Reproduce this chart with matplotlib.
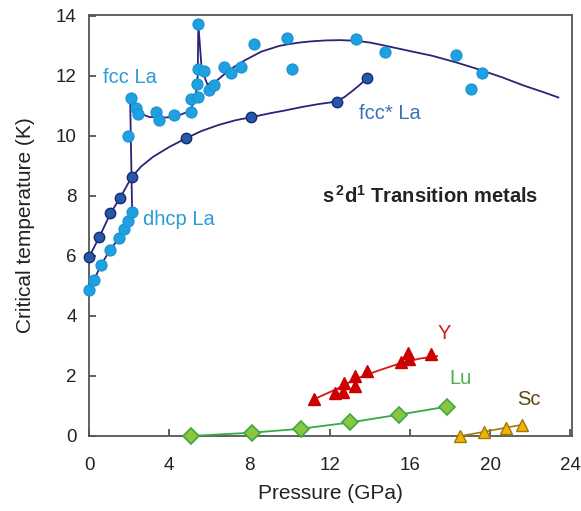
import matplotlib.pyplot as plt

plt.rcParams['font.family'] = ['Liberation Sans', 'DejaVu Sans']
plt.rcParams['mathtext.fontset'] = 'custom'
plt.rcParams['mathtext.rm'] = 'Liberation Sans'
plt.rcParams['mathtext.bf'] = 'Liberation Sans:bold'

# measured Tc (K) vs pressure (GPa)
dhcp_p = [0.0, 0.25, 0.6, 1.05, 1.5, 1.75, 1.95, 2.15]
dhcp_tc = [4.85, 5.2, 5.7, 6.2, 6.6, 6.9, 7.15, 7.45]

fcc_p = [2.07, 2.33, 2.46, 1.95, 3.35, 3.47, 4.26, 5.09, 5.06, 5.45, 5.37, 5.42,
         5.45, 5.72, 6.0, 6.25, 6.74, 7.07, 7.57, 8.23, 9.88, 10.1, 13.3, 14.76,
         18.28, 19.6, 19.05]
fcc_tc = [11.26, 10.94, 10.72, 9.98, 10.81, 10.53, 10.70, 10.81, 11.22, 11.31,
          11.73, 13.72, 12.22, 12.17, 11.53, 11.7, 12.31, 12.09, 12.29, 13.06,
          13.26, 12.22, 13.23, 12.79, 12.68, 12.11, 11.57]

star_p = [0.0, 0.51, 1.07, 1.54, 2.12, 4.84, 8.06, 12.36, 13.85]
star_tc = [5.96, 6.62, 7.42, 7.92, 8.62, 9.92, 10.62, 11.14, 11.92]

y_p = [11.2, 12.28, 12.64, 12.69, 13.24, 13.24, 13.85, 15.55, 15.88, 15.95, 17.07]
y_tc = [1.22, 1.42, 1.48, 1.76, 1.67, 2.0, 2.17, 2.48, 2.76, 2.56, 2.73]

lu_p = [5.08, 8.12, 10.55, 13.0, 15.44, 17.86]
lu_tc = [0.0, 0.11, 0.24, 0.45, 0.71, 0.98]

sc_p = [18.52, 19.71, 20.79, 21.57]
sc_tc = [0.0, 0.14, 0.28, 0.37]

# guide lines drawn through the data
la_line_p = dhcp_p + [2.12, 2.05, 2.2, 2.5, 3.0, 3.6, 4.3, 5.0, 5.3, 5.42, 5.45,
                      5.62, 5.9, 6.3, 7.0, 7.8, 8.6, 9.5, 10.0, 10.5, 11.1, 11.8,
                      12.5, 13.3, 14.0, 14.8, 15.9, 17.1, 18.3, 19.5, 20.6, 21.7,
                      22.6, 23.4]
la_line_tc = dhcp_tc + [8.62, 11.25, 11.0, 10.76, 10.63, 10.6, 10.64, 10.82, 11.2,
                        12.0, 13.72, 12.2, 11.72, 11.8, 12.2, 12.53, 12.81, 13.0,
                        13.06, 13.11, 13.15, 13.18, 13.19, 13.17, 13.11, 13.0,
                        12.84, 12.67, 12.45, 12.2, 11.95, 11.67, 11.47, 11.28]

star_line_p = [0.0, 0.51, 1.07, 1.54, 2.12, 2.6, 3.19, 4.0, 4.84, 5.6, 6.49, 7.3,
               8.07, 9.0, 9.8, 10.6, 11.45, 12.0, 12.36, 12.75, 13.1, 13.5, 13.85]
star_line_tc = [5.96, 6.62, 7.42, 7.92, 8.62, 8.98, 9.3, 9.63, 9.92, 10.16, 10.37,
                10.52, 10.62, 10.75, 10.85, 10.96, 11.06, 11.11, 11.16, 11.3,
                11.48, 11.7, 11.92]

y_line_p = [11.2, 12.3, 13.3, 14.3, 15.5, 16.5, 17.35]
y_line_tc = [1.22, 1.55, 1.9, 2.15, 2.42, 2.58, 2.66]

navy = '#2b2378'
light = '#1fa0e0'

fig = plt.figure(figsize=(5.81, 5.11), dpi=100)
ax = fig.add_axes([0.1532, 0.1468, 0.832, 0.824])

ax.plot(la_line_p, la_line_tc, color=navy, lw=1.3, zorder=2)
ax.plot(star_line_p, star_line_tc, color=navy, lw=1.3, zorder=2)
ax.plot(dhcp_p, dhcp_tc, 'o', ms=8, mfc=light, mec='#1b92d2', mew=0.8,
        clip_on=False, zorder=3)
ax.plot(fcc_p, fcc_tc, 'o', ms=8, mfc=light, mec='#1b92d2', mew=0.8,
        clip_on=False, zorder=3)
ax.plot(star_p, star_tc, 'o', ms=7.5, mfc='#2458a8', mec='#1c2a6e', mew=1.0,
        clip_on=False, zorder=4)

ax.plot(y_line_p, y_line_tc, color='#d01818', lw=1.3, zorder=2)
ax.plot(y_p, y_tc, '^', ms=8, mfc='#cc0000', mec='#cc0000', zorder=3)

ax.plot(lu_p, lu_tc, '-D', color='#3aa845', lw=1.3, ms=8, mfc='#8cc63e',
        mec='#3aa845', mew=1.2, clip_on=False, zorder=3)
ax.plot(sc_p, sc_tc, '-^', color='#a07810', lw=1.2, ms=8, mfc='#f0b400',
        mec='#a07810', mew=1.0, clip_on=False, zorder=3)

fs = 14.5
ax.text(0.69, 11.93, 'fcc La', color='#2a9bd8', fontsize=fs, va='center')
ax.text(13.44, 10.73, 'fcc* La', color='#3a72b8', fontsize=fs, va='center')
ax.text(2.68, 7.2, 'dhcp La', color='#2a9bd8', fontsize=fs, va='center')
ax.text(17.7, 3.43, 'Y', color='#cc1f1f', fontsize=fs, ha='center', va='center')
ax.text(18.5, 1.93, 'Lu', color='#4caf50', fontsize=fs, ha='center', va='center')
ax.text(21.94, 1.2, 'Sc', color='#5a4812', fontsize=fs, ha='center', va='center')
ax.text(11.6, 8.0, r'$\mathbf{s}^{\,\mathbf{2}}\mathbf{d}^{\mathbf{1}}$ Transition metals',
        color='#222222', fontsize=14.5, fontweight='bold', va='center')

ax.set_xlim(0, 24.1)
ax.set_ylim(0, 14.03)
ax.set_xticks(range(0, 25, 4))
ax.set_yticks(range(0, 15, 2))
ax.tick_params(direction='in', length=5, width=1.2, colors='#444444',
               labelcolor='#222222', labelsize=13.5)
ax.tick_params(axis='x', pad=15)
ax.tick_params(axis='y', pad=9)
for s in ax.spines.values():
    s.set_color('#555555')
    s.set_linewidth(1.3)

ax.set_xlabel('Pressure (GPa)', fontsize=15, color='#222222', labelpad=7)
ax.set_ylabel('Critical temperature (K)', fontsize=15, color='#222222', labelpad=15)

fig.savefig('out.png', dpi=100)
